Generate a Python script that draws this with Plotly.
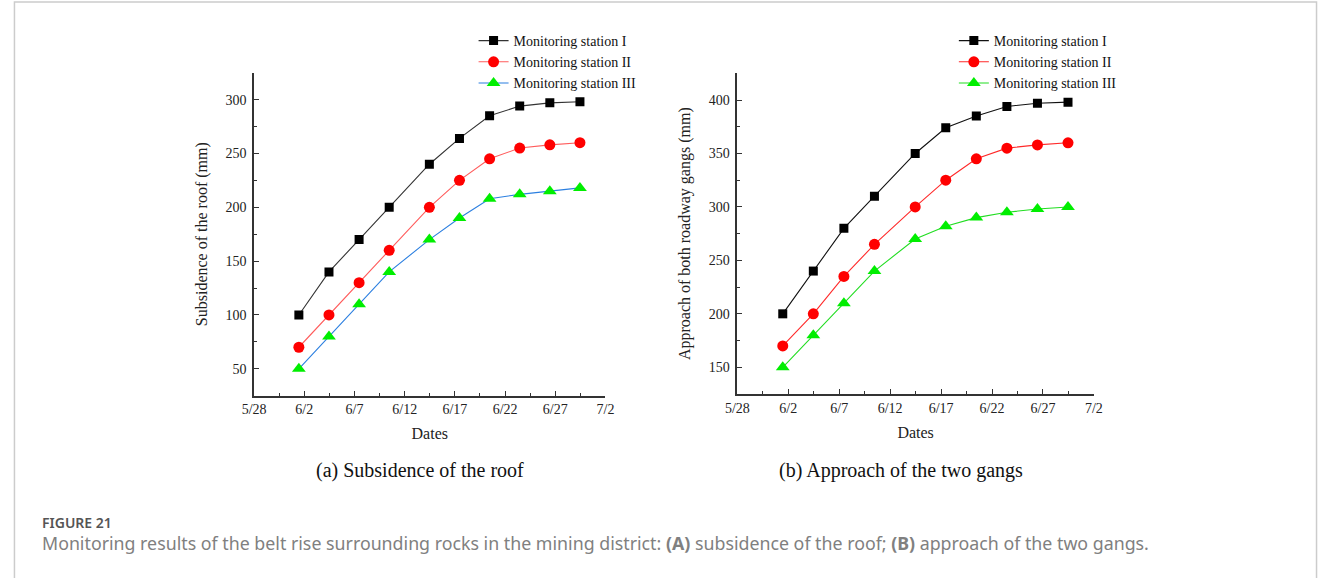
import plotly.graph_objects as go

# ---------------- data ----------------
dates = ["2021-06-01 11:00", "2021-06-04 11:00", "2021-06-07 11:00", "2021-06-10 11:00",
         "2021-06-14 11:00", "2021-06-17 11:00", "2021-06-20 11:00", "2021-06-23 11:00",
         "2021-06-26 11:00", "2021-06-29 11:00"]
series_names = ["Monitoring station I", "Monitoring station II", "Monitoring station III"]

roof_I = [100, 140, 170, 200, 240, 264, 285, 294, 297, 298]
roof_II = [70, 100, 130, 160, 200, 225, 245, 255, 258, 260]
roof_III = [50, 80, 110, 140, 170, 190, 208, 212, 215, 218]

gang_I = [200, 240, 280, 310, 350, 374, 385, 394, 397, 398]
gang_II = [170, 200, 235, 265, 300, 325, 345, 355, 358, 360]
gang_III = [150, 180, 210, 240, 270, 282, 290, 295, 298, 300]

x_range = ["2021-05-28", "2021-07-02"]
roof_yrange = [25, 325]
gang_yrange = [125, 425]

# ---------------- styles ----------------
W, H = 1327, 578
SERIF = "Liberation Serif, Times New Roman, serif"
marker_syms = ["square", "circle", "triangle-up"]
marker_cols = ["#000000", "#ff0000", "#00ee00"]
marker_sizes = [9, 11, 12]
left_line_cols = ["#333333", "#ff5c5c", "#2b7fe0"]
right_line_cols = ["#111111", "#ff2a2a", "#22dd22"]

fig = go.Figure()

left_sets = [roof_I, roof_II, roof_III]
right_sets = [gang_I, gang_II, gang_III]

for i in range(3):
    fig.add_trace(go.Scatter(
        x=dates, y=left_sets[i], name=series_names[i], mode="lines+markers",
        line=dict(color=left_line_cols[i], width=1.1),
        marker=dict(symbol=marker_syms[i], color=marker_cols[i], size=marker_sizes[i]),
        xaxis="x", yaxis="y", legend="legend"))
for i in range(3):
    fig.add_trace(go.Scatter(
        x=dates, y=right_sets[i], name=series_names[i], mode="lines+markers",
        line=dict(color=right_line_cols[i], width=1.1),
        marker=dict(symbol=marker_syms[i], color=marker_cols[i], size=marker_sizes[i]),
        xaxis="x2", yaxis="y2", legend="legend2"))

def px_x(p):
    return p / W

def px_y(p):
    return 1 - p / H

common_x = dict(
    type="date", range=x_range, tick0="2021-05-28", dtick=5 * 86400000,
    tickformat="%-m/%-d", ticks="inside", ticklen=5, tickwidth=1, tickcolor="#333",
    showline=True, linecolor="#333", linewidth=1.5, showgrid=False, zeroline=False,
    tickfont=dict(family=SERIF, size=14, color="#222"),
    minor=dict(ticks="inside", ticklen=3, dtick=2.5 * 86400000, tick0="2021-05-28", tickcolor="#333", showgrid=False),
    title=dict(text="Dates", font=dict(family=SERIF, size=16, color="#222"), standoff=12),
)
common_y = dict(
    ticks="inside", ticklen=5, tickwidth=1, tickcolor="#333",
    showline=True, linecolor="#333", linewidth=1.5, showgrid=False, zeroline=False,
    tickfont=dict(family=SERIF, size=14, color="#222"), ticklabelstandoff=3,
    dtick=50,
    minor=dict(ticks="inside", ticklen=3, dtick=25, tickcolor="#333", showgrid=False),
)

fig.update_layout(
    width=W, height=H, margin=dict(l=0, r=0, t=0, b=0),
    paper_bgcolor="white", plot_bgcolor="white",
    xaxis=dict(common_x, domain=[px_x(246), px_x(603)], anchor="y"),
    yaxis=dict(common_y, domain=[px_y(395.7), px_y(72.7)], anchor="x", range=roof_yrange, tick0=0,
               title=dict(text="Subsidence of the roof (mm)", font=dict(family=SERIF, size=16, color="#222"), standoff=14)),
    xaxis2=dict(common_x, domain=[px_x(737), px_x(1099.3)], anchor="y2"),
    yaxis2=dict(common_y, domain=[px_y(394), px_y(73.3)], anchor="x2", range=gang_yrange, tick0=0,
                title=dict(text="Approach of both roadway gangs (mm)", font=dict(family=SERIF, size=16, color="#222"), standoff=14)),
    legend=dict(x=px_x(469), y=px_y(25), xanchor="left", yanchor="top",
                font=dict(family=SERIF, size=14, color="#111"), bgcolor="rgba(0,0,0,0)",
                itemwidth=30, tracegroupgap=0),
    legend2=dict(x=px_x(957), y=px_y(25), xanchor="left", yanchor="top",
                 font=dict(family=SERIF, size=14, color="#111"), bgcolor="rgba(0,0,0,0)",
                 itemwidth=30, tracegroupgap=0),
    showlegend=True,
)

annotations = [
    dict(text="(a) Subsidence of the roof", x=px_x(415), y=px_y(470), xref="paper", yref="paper",
         xanchor="center", yanchor="middle", showarrow=False,
         font=dict(family=SERIF, size=20, color="#111")),
    dict(text="(b) Approach of the two gangs", x=px_x(903), y=px_y(470), xref="paper", yref="paper",
         xanchor="center", yanchor="middle", showarrow=False,
         font=dict(family=SERIF, size=20, color="#111")),
    dict(text="FIGURE 21", x=px_x(28), y=px_y(522), xref="paper", yref="paper",
         xanchor="left", yanchor="middle", showarrow=False,
         font=dict(family="Noto Sans", size=14, color="#555", weight=600)),
    dict(text="Monitoring results of the belt rise surrounding rocks in the mining district: <b>(A)</b> subsidence of the roof; <b>(B)</b> approach of the two gangs.",
         x=px_x(28), y=px_y(543), xref="paper", yref="paper",
         xanchor="left", yanchor="middle", showarrow=False,
         font=dict(family="Noto Sans", size=17.8, color="#808080")),
]
fig.update_layout(annotations=annotations)

fig.add_shape(type="rect", xref="paper", yref="paper", x0=px_x(2.5), x1=px_x(1325.5), y0=-0.05, y1=px_y(2),
              line=dict(color="#cccccc", width=1.5), fillcolor="rgba(0,0,0,0)", layer="below")

fig.write_html("out.html")
